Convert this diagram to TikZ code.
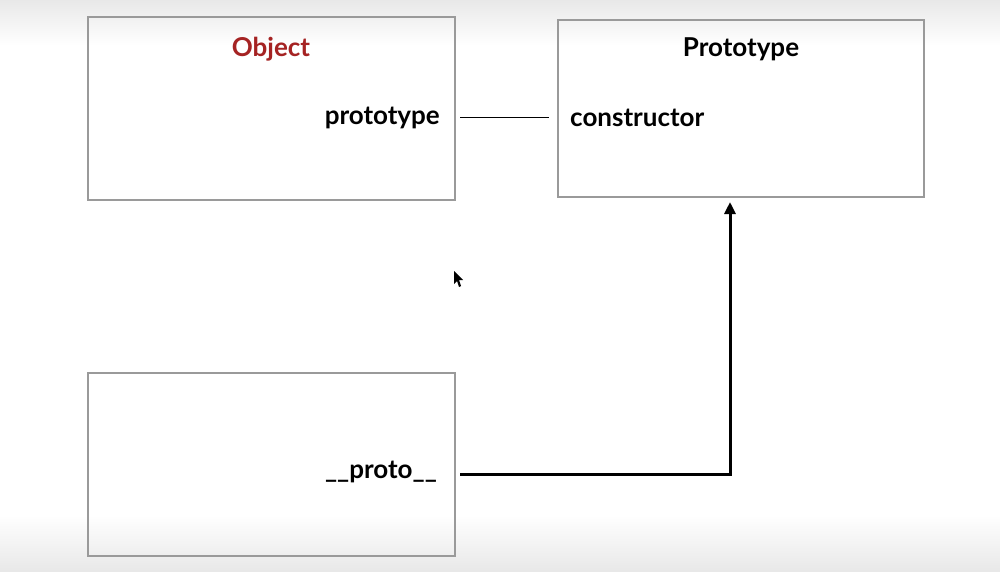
\documentclass[tikz,border=0pt]{standalone}
\usepackage{fontspec}
\setmainfont{Lato}
\usetikzlibrary{arrows.meta,calc}
\definecolor{boxline}{HTML}{9A9A9A}
\definecolor{objred}{HTML}{A52323}
\definecolor{edge}{HTML}{E8E8E8}
\begin{document}
\begin{tikzpicture}[x=1pt,y=-1pt,
  box/.style={draw=boxline,line width=1.5pt},
  label/.style={inner sep=0pt,font=\fontsize{26}{28}\selectfont\bfseries,text=black},
  link/.style={line width=1.3pt},
  pointer/.style={line width=3pt,-{Triangle[length=12pt,width=11pt]}}]
  % canvas with soft edges at top and bottom
  \useasboundingbox (0,0) rectangle (1000,571);
  \fill[white] (0,0) rectangle (1000,571);
  \shade[top color=edge,bottom color=white] (0,0) rectangle (1000,45);
  \shade[top color=white,bottom color=edge] (0,515) rectangle (1000,571);
  % the three boxes
  \draw[box] (88,17) rectangle (455,200);
  \draw[box] (558,20) rectangle (924,197);
  \draw[box] (88,373) rectangle (455,556);
  \coordinate (pbottom) at (730,202);
  % labels
  \node[label,text=objred] (obj) at (271,49) {Object};
  \node[label,anchor=east] (ptxt) at (440,117.5) {prototype};
  \node[label] (ptitle) at (741,49) {Prototype};
  \node[label,anchor=west] (ctor) at (570,117.5) {constructor};
  \node[label,anchor=east] (dproto) at (437,472) {\_\_proto\_\_};
  % prototype <-> constructor
  \draw[link,shorten <=20pt,shorten >=21pt] (ptxt.east) -- (ptxt.east -| ctor.west);
  % __proto__ points to the prototype object
  \coordinate (pstart) at ($(dproto.east)+(23,2)$);
  \draw[pointer] (pstart) -- (pstart -| pbottom) -- (pbottom);
  % mouse pointer
  \fill[black] (454,271) -- (454,284) -- (457,281) -- (459,287) -- (461,286) -- (459,280) -- (463,280) -- cycle;
\end{tikzpicture}
\end{document}
